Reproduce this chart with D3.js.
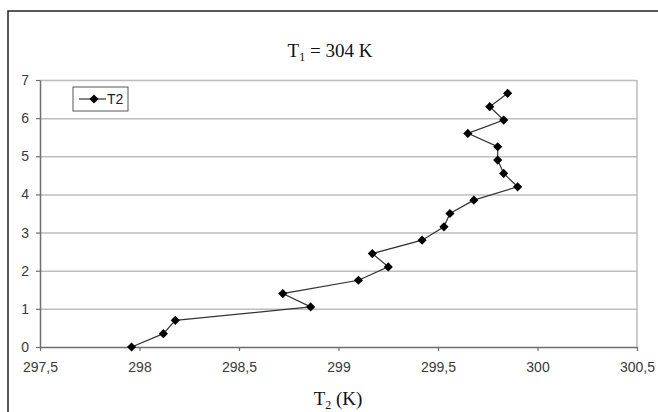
<!DOCTYPE html>
<html>
<head>
<meta charset="utf-8">
<script src="https://cdn.jsdelivr.net/npm/d3@7/dist/d3.min.js"></script>
<style>
  html, body { margin: 0; padding: 0; background: #fff; }
  svg { display: block; }
</style>
</head>
<body>
<svg id="svg"></svg>
<script>
// readings: height (y) against T2 (x)
const heights = [0, 0.35, 0.7, 1.05, 1.4, 1.75, 2.1, 2.45, 2.8, 3.15, 3.5, 3.85, 4.2, 4.55, 4.9, 5.25, 5.6, 5.95, 6.3, 6.65];
const t2Values = [297.96, 298.12, 298.18, 298.86, 298.72, 299.10, 299.25, 299.17, 299.42, 299.53, 299.56, 299.68, 299.90, 299.83, 299.80, 299.80, 299.65, 299.83, 299.76, 299.85];
const xTicks = [297.5, 298, 298.5, 299, 299.5, 300, 300.5];
const yTicks = [0, 1, 2, 3, 4, 5, 6, 7];
const seriesName = "T2";

let layout = {"width": 658,
              "height": 412,
              "marginTop": 80,
              "marginRight": 21,
              "marginBottom": 65,
              "marginLeft": 40};

let svgElement = d3.select("#svg")
                   .attr("width", layout.width)
                   .attr("height", layout.height);

const data = heights.map((h, i) => ({"h": h, "t": t2Values[i]}));

let xScale = d3.scaleLinear()
               .domain([297.5, 300.5])
               .range([layout.marginLeft, layout.width - layout.marginRight]);

let yScale = d3.scaleLinear()
               .domain([0, 7])
               .range([layout.height - layout.marginBottom, layout.marginTop]);

// outer frame (only top and left fall inside the picture)
svgElement.append("rect")
          .attr("x", 8).attr("y", 11)
          .attr("width", 700).attr("height", 500)
          .attr("fill", "none")
          .attr("stroke", "#222")
          .attr("stroke-width", 1.5);

// horizontal grid
svgElement.append("g")
          .attr("transform", `translate(${layout.marginLeft}, 0)`)
          .call(d3.axisLeft(yScale).tickValues(yTicks.slice(1))
                  .tickSize(-(layout.width - layout.marginLeft - layout.marginRight))
                  .tickFormat(""))
          .call(g => g.select(".domain").remove())
          .call(g => g.selectAll("line").attr("stroke", "#bdbdbd").attr("stroke-width", 1.5));

// right border of plot area
svgElement.append("line")
          .attr("x1", xScale(300.5)).attr("x2", xScale(300.5))
          .attr("y1", yScale(7)).attr("y2", yScale(0))
          .attr("stroke", "#bdbdbd")
          .attr("stroke-width", 1.5);

let xAxis = svgElement.append("g")
          .attr("transform", `translate(0, ${layout.height - layout.marginBottom})`)
          .call(d3.axisBottom(xScale).tickValues(xTicks).tickSize(4).tickSizeOuter(0)
                  .tickFormat(d => String(d).replace(".", ",")));

let yAxis = svgElement.append("g")
          .attr("transform", `translate(${layout.marginLeft}, 0)`)
          .call(d3.axisLeft(yScale).tickValues(yTicks).tickSize(4).tickSizeOuter(0)
                  .tickFormat(d3.format("d")));

[xAxis, yAxis].forEach(ax => {
  ax.select(".domain").attr("stroke", "#6e6e6e").attr("stroke-width", 1.5);
  ax.selectAll(".tick line").attr("stroke", "#6e6e6e").attr("stroke-width", 1.2);
  ax.selectAll(".tick text")
    .attr("fill", "#3a3a3a")
    .style("font-family", "'Liberation Sans', Arial, sans-serif")
    .style("font-size", "14px");
});
xAxis.selectAll(".tick text").attr("dy", "1.25em");
yAxis.selectAll(".tick text").attr("x", -11);

// series line
let lineFunction = d3.line()
                     .x(d => xScale(d.t))
                     .y(d => yScale(d.h));

svgElement.append("path")
          .datum(data)
          .attr("fill", "none")
          .attr("stroke", "#333")
          .attr("stroke-width", 1.2)
          .attr("d", lineFunction);

const marker = d3.symbol(d3.symbolSquare, 42);

svgElement.append("g")
          .selectAll("path")
          .data(data)
          .join("path")
          .attr("d", marker)
          .attr("fill", "#000")
          .attr("transform", d => `translate(${xScale(d.t)}, ${yScale(d.h)}) rotate(45)`);

// title
let title = svgElement.append("text")
          .attr("x", 330).attr("y", 57)
          .attr("text-anchor", "middle")
          .attr("fill", "#111")
          .style("font-family", "'Liberation Serif', 'Times New Roman', serif")
          .style("font-size", "19px");
title.append("tspan").text("T");
title.append("tspan").attr("dy", 4).style("font-size", "12px").text("1");
title.append("tspan").attr("dy", -4).text(" = 304 K");

// x axis title
let xTitle = svgElement.append("text")
          .attr("x", 338).attr("y", 405)
          .attr("text-anchor", "middle")
          .attr("fill", "#111")
          .style("font-family", "'Liberation Serif', 'Times New Roman', serif")
          .style("font-size", "19px");
xTitle.append("tspan").text("T");
xTitle.append("tspan").attr("dy", 4).style("font-size", "12px").text("2");
xTitle.append("tspan").attr("dy", -4).text(" (K)");

// legend
let legend = svgElement.append("g").attr("transform", "translate(73, 87)");
legend.append("rect")
      .attr("width", 55).attr("height", 24)
      .attr("fill", "#fff")
      .attr("stroke", "#555")
      .attr("stroke-width", 1);
legend.append("line")
      .attr("x1", 6).attr("x2", 33).attr("y1", 12).attr("y2", 12)
      .attr("stroke", "#333").attr("stroke-width", 1.2);
legend.append("path")
      .attr("d", marker)
      .attr("fill", "#000")
      .attr("transform", "translate(21, 12) rotate(45)");
legend.append("text")
      .attr("x", 34).attr("y", 17)
      .attr("fill", "#222")
      .style("font-family", "'Liberation Sans', Arial, sans-serif")
      .style("font-size", "14px")
      .text(seriesName);
</script>
</body>
</html>
